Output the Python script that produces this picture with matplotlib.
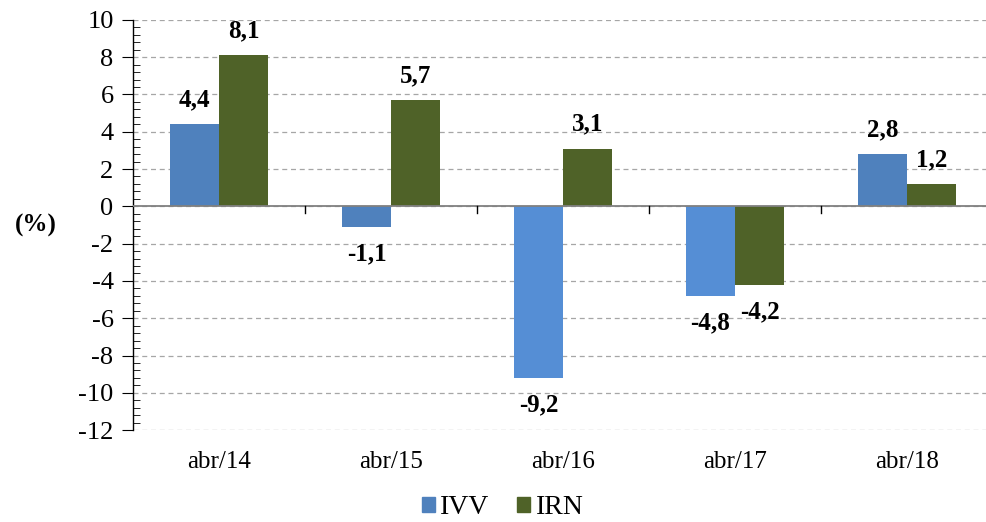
import matplotlib
matplotlib.use("Agg")
import matplotlib.pyplot as plt
import numpy as np
from matplotlib.ticker import MultipleLocator
from matplotlib.patches import Patch

categories = ["abr/14", "abr/15", "abr/16", "abr/17", "abr/18"]
ivv = [4.4, -1.1, -9.2, -4.8, 2.8]
irn = [8.1, 5.7, 3.1, -4.2, 1.2]
ivv_colors = ["#4F81BD", "#4F81BD", "#558ED5", "#558ED5", "#4F81BD"]
irn_color = "#4F6228"

plt.rcParams['font.family'] = ['Liberation Serif', 'DejaVu Serif']
plt.rcParams['axes.unicode_minus'] = False

fig = plt.figure(figsize=(9.86, 5.22), dpi=100)
ax = fig.add_axes([133/986, 0.176, 860/986, 0.786])

x = np.arange(len(categories))
w = 0.285
b1 = ax.bar(x - w/2, ivv, w, color=ivv_colors, label="IVV", zorder=3)
b2 = ax.bar(x + w/2, irn, w, color=irn_color, label="IRN", zorder=3)

def fmt(v):
    return f"{v:.1f}".replace(".", ",")

for bars, vals in ((b1, ivv), (b2, irn)):
    for r, v in zip(bars, vals):
        cx = r.get_x() + r.get_width()/2
        if v >= 0:
            ax.text(cx, v + 0.7, fmt(v), ha="center", va="bottom",
                    fontsize=18, fontweight="bold", zorder=4)
        else:
            ax.text(cx, v - 0.85, fmt(v), ha="center", va="top",
                    fontsize=18, fontweight="bold", zorder=4)

ax.set_xlim(-0.5, len(categories) - 0.5)
ax.set_ylim(-12, 10)
ax.yaxis.set_major_locator(MultipleLocator(2))
ax.yaxis.set_minor_locator(MultipleLocator(0.4))
ax.grid(axis="y", which="major", linestyle=(0, (4, 3)), color="#A6A6A6", linewidth=0.9, zorder=0)
ax.axhline(0, color="#808080", linewidth=1.3, zorder=3.5)

for s in ("top", "right", "bottom"):
    ax.spines[s].set_visible(False)
ax.spines["left"].set_color("#000000")
ax.spines["left"].set_linewidth(1.0)

ax.tick_params(axis="y", which="major", direction="out", length=8, labelsize=19, pad=6)
ax.tick_params(axis="y", which="minor", direction="in", length=5)
ax.set_xticks(x)
ax.set_xticklabels(categories)
ax.tick_params(axis="x", length=0, labelsize=18, pad=15)

for b in np.arange(0.5, len(categories) - 0.5, 1.0):
    ax.plot([b, b], [0, -0.35], color="#000000", linewidth=1.0, zorder=3.6)

fig.text(0.036, 0.568, "(%)", fontsize=18, fontweight="bold", ha="center", va="center")

handles = [Patch(color="#4F81BD", label="IVV"), Patch(color=irn_color, label="IRN")]
fig.legend(handles=handles, loc="lower center", bbox_to_anchor=(0.51, -0.045), ncol=2,
           frameon=False, fontsize=20, handlelength=0.45, handleheight=0.45,
           handletextpad=0.2, columnspacing=1.0)

fig.savefig("out.png", dpi=100)
